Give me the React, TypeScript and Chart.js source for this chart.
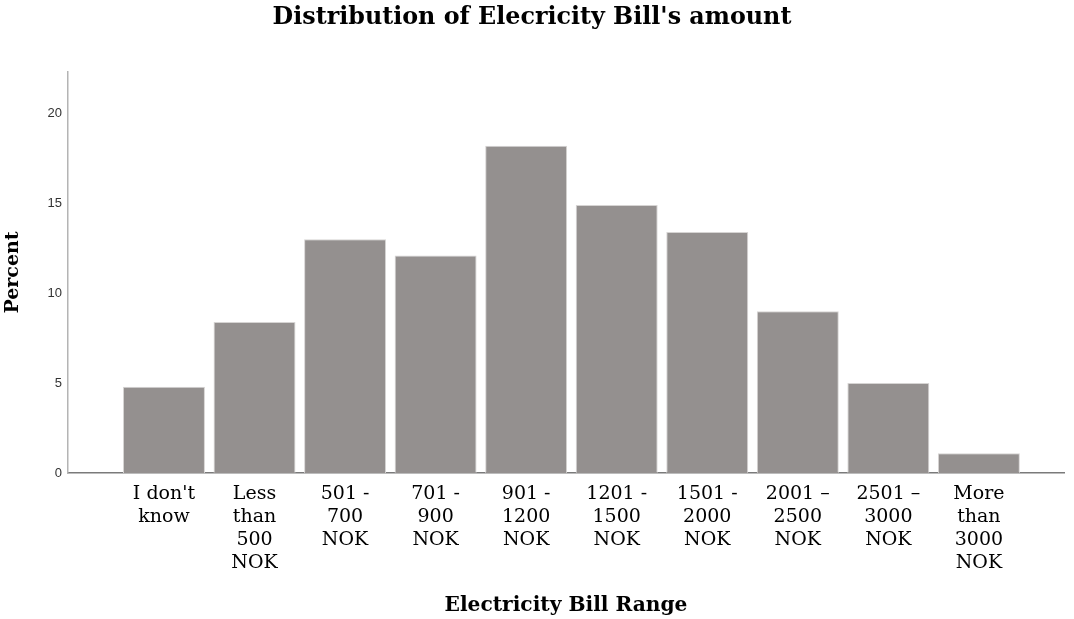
import React, { useEffect, useRef } from "react";
import { Chart, registerables } from "chart.js";

Chart.register(...registerables);

const TITLE = "Distribution of Elecricity Bill's amount";
const X_TITLE = "Electricity Bill Range";
const Y_TITLE = "Percent";

const categories: string[][] = [
  ["I don't", "know"],
  ["Less", "than", "500", "NOK"],
  ["501 -", "700", "NOK"],
  ["701 -", "900", "NOK"],
  ["901 -", "1200", "NOK"],
  ["1201 -", "1500", "NOK"],
  ["1501 -", "2000", "NOK"],
  ["2001 \u2013", "2500", "NOK"],
  ["2501 \u2013", "3000", "NOK"],
  ["More", "than", "3000", "NOK"],
];

const percents: number[] = [4.8, 8.4, 13.0, 12.1, 18.2, 14.9, 13.4, 9.0, 5.0, 1.1];

const yTicks: number[] = [0, 5, 10, 15, 20];

const SERIF = "'DejaVu Serif', 'Liberation Serif', serif";
const SANS = "'Liberation Sans', Arial, sans-serif";

export default function App() {
  const ref = useRef<HTMLCanvasElement | null>(null);

  useEffect(() => {
    if (!ref.current) return;
    const chart = new Chart(ref.current, {
      type: "bar",
      data: {
        datasets: [
          {
            label: Y_TITLE,
            data: percents.map((v, i) => ({ x: i, y: v })),
            backgroundColor: "#94908f",
            borderColor: "#d6d4d3",
            borderWidth: 1,
            barPercentage: 0.905,
            categoryPercentage: 1,
          },
        ],
      },
      options: {
        animation: false,
        responsive: true,
        maintainAspectRatio: false,
        layout: { padding: { left: 0, right: 10, top: 0, bottom: 0 } },
        plugins: {
          legend: { display: false },
          tooltip: { enabled: false },
          title: {
            display: true,
            text: TITLE,
            color: "#000",
            font: { family: SERIF, size: 23.8, weight: "bold", lineHeight: 1.2 },
            padding: { top: 4, bottom: 39.4 },
          },
        },
        scales: {
          x: {
            type: "linear",
            offset: false,
            min: -1.06,
            max: 9.94,
            grid: { display: false, drawTicks: false },
            border: { display: true, color: "#7a7a7a", width: 1.5 },
            afterBuildTicks: (scale: any) => {
              scale.ticks = categories.map((_, i) => ({ value: i }));
            },
            afterFit: (scale: any) => {
              scale.height = 146;
            },
            ticks: {
              autoSkip: false,
              maxRotation: 0,
              minRotation: 0,
              padding: 10,
              color: "#000",
              font: { family: SERIF, size: 19, lineHeight: 1.21 },
              callback: (v: any) => {
                const i = Math.round(Number(v));
                return categories[i] ?? "";
              },
            },
            title: {
              display: true,
              text: X_TITLE,
              color: "#000",
              font: { family: SERIF, size: 20.2, weight: "bold", lineHeight: 1.2 },
              padding: { top: 0, bottom: 1 },
            },
          },
          y: {
            type: "linear",
            min: 0,
            max: 22.3,
            grid: { display: false, drawTicks: false },
            border: { display: true, color: "#b4b4b4", width: 1.5 },
            afterBuildTicks: (scale: any) => {
              scale.ticks = yTicks.map((v) => ({ value: v }));
            },
            afterFit: (scale: any) => {
              scale.width = 68;
            },
            ticks: {
              padding: 6,
              color: "#333",
              font: { family: SANS, size: 13 },
            },
            title: {
              display: true,
              text: Y_TITLE,
              color: "#000",
              font: { family: SERIF, size: 19, weight: "bold", lineHeight: 1.2 },
              padding: { top: 2, bottom: 0 },
            },
          },
        },
      },
    } as any);
    return () => chart.destroy();
  }, []);

  return (
    <div
      style={{
        position: "absolute",
        left: 0,
        top: 0,
        width: 1074,
        height: 619,
        background: "#fff",
      }}
    >
      <canvas ref={ref} />
    </div>
  );
}
